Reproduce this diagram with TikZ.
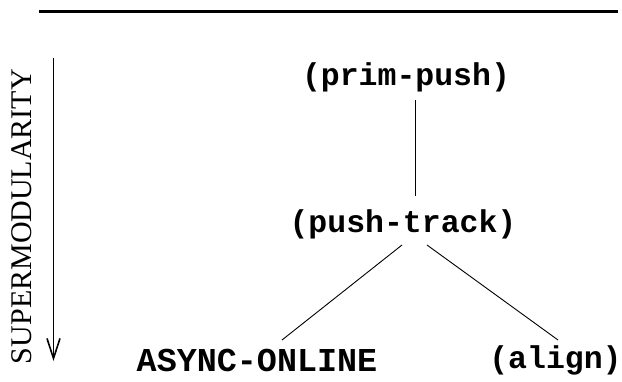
\documentclass[tikz,border=0pt]{standalone}
\usepackage{fontspec}
\setmainfont{Liberation Serif}
\newfontfamily\monofam{Liberation Mono}
\usetikzlibrary{arrows.meta}
\tikzset{
  term/.style={font=\monofam\bfseries\fontsize{31.5}{34}\selectfont, inner sep=0pt, anchor=center},
  bigterm/.style={term, font=\monofam\bfseries\fontsize{33.4}{36}\selectfont},
  edge/.style={line width=0.9pt},
  axislabel/.style={font=\fontsize{30}{32}\selectfont, inner sep=0pt, rotate=90, anchor=center}
}
\begin{document}
\begin{tikzpicture}[x=1pt,y=-1pt]
\useasboundingbox (0,0) rectangle (622,381);
% top rule
\coordinate (r1) at (39,11.3);
\coordinate (r2) at (618,11.3);
\draw[line width=3pt] (r1) -- (r2);
% axis
\coordinate (ax1) at (53.5,58);
\coordinate (ax2) at (53.5,361);
\draw[line width=1.6pt, -{Straight Barb[length=20pt,width=13pt,line width=1.6pt]}] (ax1) -- (ax2);
\node[axislabel] (lab) at (21.5,216.5) {SUPERMODULARITY};
% terms
\node[term] (prim) at (406,77) {(prim-push)};
\node[term] (push) at (403,224) {(push-track)};
\node[bigterm] (async) at (257,360.5) {ASYNC-ONLINE};
\node[term] (align) at (555.5,360) {(align)};
% connectors
\coordinate (a1) at (415,100);
\coordinate (a2) at (415,196);
\coordinate (b1) at (402,245);
\coordinate (b2) at (282,340);
\coordinate (c1) at (427,245);
\coordinate (c2) at (558,340);
\draw[edge] (a1) -- (a2);
\draw[edge] (b1) -- (b2);
\draw[edge] (c1) -- (c2);
\end{tikzpicture}
\end{document}
